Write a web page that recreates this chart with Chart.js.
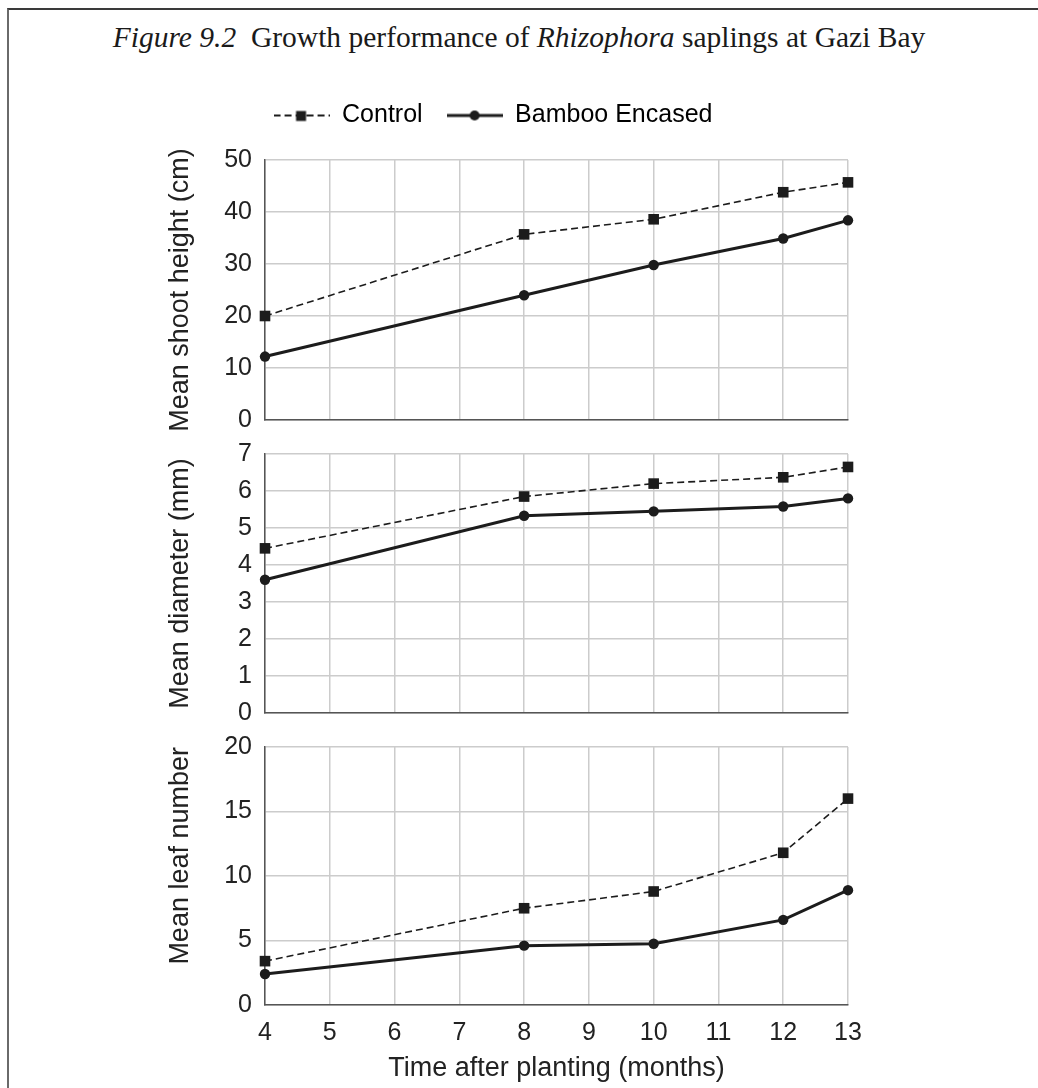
<!DOCTYPE html>
<html>
<head>
<meta charset="utf-8">
<script src="https://cdn.jsdelivr.net/npm/chart.js@4.4.0/dist/chart.umd.min.js"></script>
<style>
  html, body { margin: 0; padding: 0; background: #fff; }
  body { width: 1038px; height: 1088px; position: relative; overflow: hidden; }
  .frame { position: absolute; left: 7px; top: 8px; width: 1100px; height: 1200px;
           border-top: 2px solid #3a3a3a; border-left: 2px solid #6a6a6a; }
  .title { position: absolute; left: 0; top: 21px; width: 1038px; text-align: center;
           font-family: "Liberation Serif", "Times New Roman", serif; font-size: 29.5px; color: #1a1a1a; }
  .panel { position: absolute; left: 138px; width: 740px; }
</style>
</head>
<body>
<div class="frame"></div>
<div class="title"><i>Figure 9.2</i>&nbsp; Growth performance of <i>Rhizophora</i> saplings at Gazi Bay</div>
<div class="panel" style="top:79px;height:371px"><canvas id="shootChart"></canvas></div>
<div class="panel" style="top:424px;height:319px"><canvas id="diameterChart"></canvas></div>
<div class="panel" style="top:717px;height:368px"><canvas id="leafChart"></canvas></div>
<script>
// months after planting when measurements were taken
const months = [4, 8, 10, 12, 13];
const seriesNames = ['Control', 'Bamboo Encased'];

const shootControl = [20.0, 35.7, 38.6, 43.8, 45.7];
const shootBamboo = [12.2, 24.0, 29.8, 34.9, 38.4];
const diameterControl = [4.45, 5.85, 6.2, 6.37, 6.65];
const diameterBamboo = [3.6, 5.33, 5.45, 5.58, 5.8];
const leafControl = [3.4, 7.5, 8.8, 11.8, 16.0];
const leafBamboo = [2.4, 4.6, 4.75, 6.6, 8.9];

const ink = '#1c1c1c';
const gridColor = '#cccccc';
const axisColor = '#555555';
const sans = '"Liberation Sans", Arial, sans-serif';

const pts = ys => months.map((m, i) => ({ x: m, y: ys[i] }));

// little legend icons: line + marker
function makeIcon(dashed) {
  const c = document.createElement('canvas');
  c.width = 56; c.height = 14;
  const g = c.getContext('2d');
  g.strokeStyle = ink;
  g.fillStyle = ink;
  g.lineWidth = dashed ? 1.8 : 3;
  if (dashed) g.setLineDash([7, 4]);
  g.beginPath();
  g.moveTo(0, 7); g.lineTo(56, 7);
  g.stroke();
  if (dashed) {
    g.fillRect(22.5, 2.5, 10, 10);
  } else {
    g.beginPath(); g.arc(28, 7, 5, 0, Math.PI * 2); g.fill();
  }
  return c;
}
const controlIcon = makeIcon(true);
const bambooIcon = makeIcon(false);

const legendGap = {
  id: 'legendGap',
  beforeInit(chart) {
    const fit = chart.legend.fit;
    chart.legend.fit = function () { fit.call(this); this.height += 22; };
  }
};

function makePanel(id, controlYs, bambooYs, yCfg, isTop, isBottom) {
  const ctx = document.getElementById(id);
  return new Chart(ctx, {
    type: 'line',
    data: {
      datasets: [
        {
          label: seriesNames[0],
          data: pts(controlYs),
          borderColor: ink,
          borderWidth: 1.6,
          borderDash: [7, 4],
          pointStyle: 'rect',
          pointRadius: 7.5,
          pointBackgroundColor: ink,
          pointBorderWidth: 0,
          tension: 0,
          clip: false
        },
        {
          label: seriesNames[1],
          data: pts(bambooYs),
          borderColor: ink,
          borderWidth: 3,
          pointStyle: 'circle',
          pointRadius: 5.2,
          pointBackgroundColor: ink,
          pointBorderWidth: 0,
          tension: 0,
          clip: false
        }
      ]
    },
    options: {
      responsive: true,
      maintainAspectRatio: false,
      animation: false,
      layout: { padding: { top: isTop ? 0 : 30, bottom: isBottom ? 0 : 30, right: 30, left: 0 } },
      plugins: {
        tooltip: { enabled: false },
        legend: {
          display: isTop,
          position: 'top',
          labels: {
            usePointStyle: true,
            pointStyleWidth: 56,
            padding: 24,
            color: '#222',
            font: { family: sans, size: 25 },
            generateLabels: () => [
              { text: seriesNames[0], pointStyle: controlIcon, fillStyle: ink, strokeStyle: ink, lineWidth: 0, hidden: false, datasetIndex: 0 },
              { text: seriesNames[1], pointStyle: bambooIcon, fillStyle: ink, strokeStyle: ink, lineWidth: 0, hidden: false, datasetIndex: 1 }
            ]
          }
        }
      },
      scales: {
        x: {
          type: 'linear',
          min: 4,
          max: 13,
          ticks: {
            display: isBottom,
            stepSize: 1,
            padding: 13,
            color: '#222',
            font: { family: sans, size: 25 }
          },
          grid: { color: gridColor, lineWidth: 1.5, drawTicks: false },
          border: { color: axisColor, width: 1.5 },
          title: {
            display: isBottom,
            text: 'Time after planting (months)',
            color: '#222',
            font: { family: sans, size: 27 },
            padding: { top: 4, bottom: 0 }
          },
          afterFit: s => { s.height = isBottom ? 80 : 0; }
        },
        y: {
          min: yCfg.min,
          max: yCfg.max,
          ticks: {
            stepSize: yCfg.step,
            padding: 13,
            color: '#222',
            font: { family: sans, size: 25 }
          },
          grid: { color: gridColor, lineWidth: 1.5, drawTicks: false },
          border: { color: axisColor, width: 1.5 },
          title: {
            display: true,
            text: yCfg.title,
            align: yCfg.align || 'center',
            color: '#222',
            font: { family: sans, size: 27 },
            padding: { top: 26, bottom: 0 }
          },
          afterFit: s => { s.width = 127; }
        }
      }
    },
    plugins: isTop ? [legendGap] : []
  });
}

makePanel('shootChart', shootControl, shootBamboo,
  { min: 0, max: 50, step: 10, title: 'Mean shoot height (cm)' }, true, false);
makePanel('diameterChart', diameterControl, diameterBamboo,
  { min: 0, max: 7, step: 1, title: 'Mean diameter (mm)' }, false, false);
makePanel('leafChart', leafControl, leafBamboo,
  { min: 0, max: 20, step: 5, title: 'Mean leaf number', align: 'end' }, false, true);
</script>
</body>
</html>
